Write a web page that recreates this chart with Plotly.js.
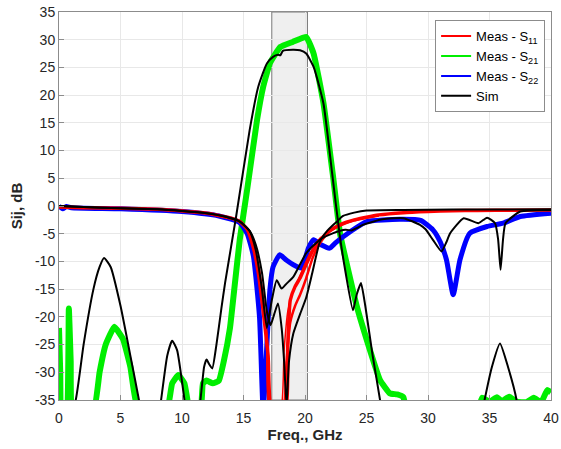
<!DOCTYPE html>
<html>
<head>
<meta charset="utf-8">
<script src="https://cdn.plot.ly/plotly-3.0.1.min.js"></script>
<style>html,body{margin:0;padding:0;background:#fff;}#chart{width:561px;height:449px;}</style>
</head>
<body>
<div id="chart"></div>
<script>
// ---- Data ----
const xTicks = [0, 5, 10, 15, 20, 25, 30, 35, 40];
const xTickLabels = ["0", "5", "10", "15", "20", "25", "30", "35", "40"];
const yTicks = [-35, -30, -25, -20, -15, -10, -5, 0, 5, 10, 15, 20, 25, 30, 35];
const yTickLabels = ["-35", "-30", "-25", "-20", "-15", "-10", "-5", "0", "5", "10", "15", "20", "25", "30", "35"];

const bandRange = [17.3, 20.2];

// Measured S11 (main strand)
const s11Freq = [0, 2, 5, 8, 10, 12, 13, 14, 14.7, 15.3, 15.8, 16.2, 16.6, 17.0, 17.3, 18.4, 18.6, 18.8, 19.2, 19.6, 20.1, 20.6, 21.0, 21.5, 22.0, 23.0, 24.0, 25.0, 26.0, 28.0, 30.0, 32.0, 34.0, 37.0, 40.0];
const s11Meas = [-0.2, -0.3, -0.4, -0.6, -0.9, -1.3, -1.7, -2.2, -2.8, -4.2, -7.5, -12, -19, -27, -37, -37, -25, -17, -14.5, -13, -10.5, -8.2, -6.7, -5.5, -4.5, -3.2, -2.5, -2.0, -1.6, -1.2, -1.0, -0.85, -0.8, -0.75, -0.7];
// Measured S11 (secondary strands giving the spread)
const s11bFreq = [14.7, 15.5, 16.0, 16.5, 16.9, 17.2, 18.2, 18.5, 18.8, 19.2, 19.6, 20.1, 20.6, 21.0, 21.5, 22.0, 23.0, 24.0, 26.0];
const s11bMeas = [-2.8, -4.8, -8.5, -15, -24, -37, -37, -28, -21, -18, -16, -13, -9.5, -7.5, -5.8, -4.6, -3.4, -2.6, -1.7];
const s11cFreq = [15.5, 16.0, 16.5, 16.9, 17.1, 18.0, 18.3, 18.6, 19.0, 19.4, 19.8, 20.3, 20.8, 21.3];
const s11cMeas = [-5.0, -9.0, -16, -26, -37, -37, -26, -19, -15.5, -13.5, -11.5, -9, -7, -5.6];

// Measured S21
const s21Freq = [0, 0.1, 0.2, 0.6, 0.8, 0.95, 1.1, 2.8, 3.3, 3.8, 4.5, 5.2, 5.8, 6.45, 8.75, 9.2, 9.7, 10.2, 10.65, 11.5, 11.7, 12.0, 12.5, 13.0, 13.4, 13.9, 14.3, 14.7, 15.3, 16.1, 16.6, 17.15, 18.0, 19.0, 20.1, 20.7, 21.5, 22.3, 22.85, 24.2, 25.0, 26.1, 26.9, 27.5, 28.0, 28.3, 34.0, 34.4, 35.0, 35.6, 36.0, 36.6, 37.2, 38.0, 38.6, 39.2, 39.7, 40.0];
const s21Meas = [-22, -30, -37, -37, -18.5, -28, -37, -37, -30, -25, -21.8, -24, -29, -37, -37, -32, -30.5, -32, -37, -37, -32, -31.5, -32, -31.5, -28, -22, -14, -6, 3, 15.5, 21.5, 25.8, 28.7, 29.6, 30.5, 27.5, 18.6, 5, -5, -18, -24, -31.4, -33.8, -34, -34.5, -37, -37, -34.6, -35.3, -34.5, -35.2, -34.4, -35.3, -35.4, -34.6, -35.4, -33.2, -33.6];

// Measured S22
const s22Freq = [0, 0.3, 0.6, 1, 5, 10, 13, 14.7, 15.3, 15.8, 16.3, 16.6, 16.9, 17.15, 17.4, 17.95, 18.5, 19.05, 19.7, 20.3, 20.7, 21.3, 22.0, 22.5, 23.7, 25.0, 27.7, 29.4, 30.4, 31.0, 31.5, 32.05, 32.6, 33.4, 34.8, 36.1, 37.5, 40.0];
const s22Meas = [0, -0.5, -0.1, -0.3, -0.5, -1.0, -1.8, -3.0, -5.0, -9.0, -20, -37, -25, -15, -11, -8.8, -9.8, -10.6, -11.2, -7.5, -6.1, -7.0, -7.6, -6.6, -4.6, -2.8, -2.4, -2.6, -4.3, -6.5, -9.7, -16, -9.7, -4.9, -3.7, -3.1, -1.9, -1.3];

// Simulated S21
const simS21Freq = [0, 1.36, 2.0, 2.8, 3.3, 3.66, 4.2, 5.0, 5.8, 6.5, 7.0, 8.0, 8.3, 8.8, 9.2, 9.6, 10.2, 10.6, 11.2, 11.5, 11.8, 12.0, 12.2, 12.46, 12.8, 13.2, 13.5, 14.4, 15.5, 16.2, 16.9, 17.4, 17.8, 18.0, 18.2, 19.0, 19.6, 20.1, 20.7, 21.5, 22.2, 22.8, 23.3, 23.9, 24.2, 24.55, 24.9, 25.5, 26.1, 26.5, 34.0, 34.6, 35.2, 35.85, 36.5, 37.2, 37.5, 40.0];
const simS21 = [-45, -35, -25, -15, -11, -9.4, -11, -18, -27, -35, -42, -40, -35, -27, -24.3, -26, -35, -42, -40, -35, -29, -27.7, -28.5, -29.3, -25, -18.5, -13.9, -1.9, 13.7, 21.5, 25.7, 26.9, 27.3, 27.2, 28.0, 28.2, 28.1, 27.5, 25.1, 18.5, 6, -4.9, -12, -18.8, -16, -13.9, -18, -27, -35, -42, -42, -35, -29, -24.8, -29, -35, -42, -45];

// Simulated S11
const simS11Freq = [0, 2, 5, 8, 10, 12, 13.5, 14.7, 15.5, 16.0, 16.5, 16.9, 17.2, 17.5, 17.8, 18.1, 18.3, 18.5, 18.7, 19.05, 19.6, 20.1, 20.6, 21.2, 21.8, 22.5, 23.1, 24.0, 25.0, 28.0, 32.0, 40.0];
const simS11 = [0, -0.2, -0.4, -0.6, -0.9, -1.3, -1.9, -2.8, -4.5, -7, -12, -19, -21.5, -19.5, -17.6, -22, -28, -36, -28, -23, -19.5, -16.5, -12, -6.5, -4.5, -3.0, -1.8, -1.2, -0.8, -0.7, -0.65, -0.6];

// Simulated S22
const simS22Freq = [0, 2, 5, 8, 10, 12, 13.5, 14.7, 15.5, 16.0, 16.5, 16.9, 17.3, 17.7, 18.1, 18.5, 19.05, 20.1, 21.2, 22.3, 23.3, 23.8, 24.2, 24.7, 26.3, 28.0, 29.35, 29.8, 30.4, 31.1, 31.5, 31.8, 32.9, 34.1, 34.8, 35.45, 35.7, 35.9, 36.1, 36.3, 37.5, 40.0];
const simS22 = [0, -0.2, -0.4, -0.6, -0.9, -1.3, -1.9, -2.8, -4.5, -8, -15, -22, -17, -13.4, -14.9, -14, -12.8, -8.5, -6.1, -4.9, -4.3, -4.4, -4.0, -3.4, -2.4, -2.2, -3.4, -4.2, -6.1, -8.2, -6.5, -4.9, -2.2, -3.1, -2.1, -3.1, -6, -11.5, -6, -3.1, -1.0, -0.7];

// Legend labels
const legendNames = ['Meas - S<sub>11</sub>', 'Meas - S<sub>21</sub>', 'Meas - S<sub>22</sub>', 'Sim'];

// ---- Traces ----
const RED = '#ff0000', GREEN = '#00ee00', BLUE = '#0000ff', BLACK = '#000000';
const sm = 0.5;
const traces = [
  {x: s21Freq, y: s21Meas, mode: 'lines', line: {color: GREEN, width: 6, shape: 'spline', smoothing: 0.35}, showlegend: false},
  {x: s22Freq, y: s22Meas, mode: 'lines', line: {color: BLUE, width: 5, shape: 'spline', smoothing: sm}, showlegend: false},
  {x: s11Freq, y: s11Meas, mode: 'lines', line: {color: RED, width: 3.5, shape: 'spline', smoothing: sm}, showlegend: false},
  {x: s11bFreq, y: s11bMeas, mode: 'lines', line: {color: RED, width: 2.5, shape: 'spline', smoothing: sm}, showlegend: false},
  {x: s11cFreq, y: s11cMeas, mode: 'lines', line: {color: RED, width: 1.5, shape: 'spline', smoothing: sm}, showlegend: false},
  {x: simS21Freq, y: simS21, mode: 'lines', line: {color: BLACK, width: 2, shape: 'spline', smoothing: sm}, showlegend: false},
  {x: simS11Freq, y: simS11, mode: 'lines', line: {color: BLACK, width: 2, shape: 'spline', smoothing: sm}, showlegend: false},
  {x: simS22Freq, y: simS22, mode: 'lines', line: {color: BLACK, width: 2, shape: 'spline', smoothing: sm}, showlegend: false},
  // legend entries (thin lines, as in the reference legend)
  {x: [null], y: [null], name: legendNames[0], mode: 'lines', line: {color: RED, width: 2}},
  {x: [null], y: [null], name: legendNames[1], mode: 'lines', line: {color: GREEN, width: 2}},
  {x: [null], y: [null], name: legendNames[2], mode: 'lines', line: {color: BLUE, width: 2}},
  {x: [null], y: [null], name: legendNames[3], mode: 'lines', line: {color: BLACK, width: 2}}
];

const FONT = 'Liberation Sans, Arial, sans-serif';
const axisCommon = {
  showline: true, mirror: true, linecolor: '#8c8c8c', linewidth: 1,
  showgrid: true, gridcolor: '#e8e8e8', gridwidth: 1,
  zeroline: false, ticks: 'inside', ticklen: 5, tickcolor: '#8c8c8c',
  tickfont: {family: FONT, size: 14, color: '#262626'}
};

const layout = {
  width: 561, height: 449,
  margin: {l: 59, r: 10, t: 12, b: 49},
  paper_bgcolor: '#ffffff', plot_bgcolor: '#ffffff',
  showlegend: true,
  legend: {
    x: 0.988, y: 0.979, xanchor: 'right', yanchor: 'top',
    bgcolor: '#ffffff', bordercolor: '#8c8c8c', borderwidth: 1,
    font: {family: FONT, size: 13, color: '#000'},
    traceorder: 'normal', tracegroupgap: 0
  },
  xaxis: Object.assign({}, axisCommon, {
    range: [0, 40], tickvals: xTicks, ticktext: xTickLabels, ticklabelstandoff: 5,
    title: {text: '<b>Freq., GHz</b>', font: {family: FONT, size: 15, color: '#262626'}, standoff: 4}
  }),
  yaxis: Object.assign({}, axisCommon, {
    range: [-35, 35], tickvals: yTicks, ticktext: yTickLabels,
    title: {text: '<b>Sij, dB</b>', font: {family: FONT, size: 15, color: '#262626'}, standoff: 8}
  }),
  shapes: [{
    type: 'rect', xref: 'x', yref: 'paper', x0: bandRange[0], x1: bandRange[1], y0: 0, y1: 1,
    fillcolor: '#efefef', line: {color: '#7a7a7a', width: 1}, layer: 'below'
  }]
};

Plotly.newPlot('chart', traces, layout, {staticPlot: true, displayModeBar: false});
</script>
</body>
</html>
